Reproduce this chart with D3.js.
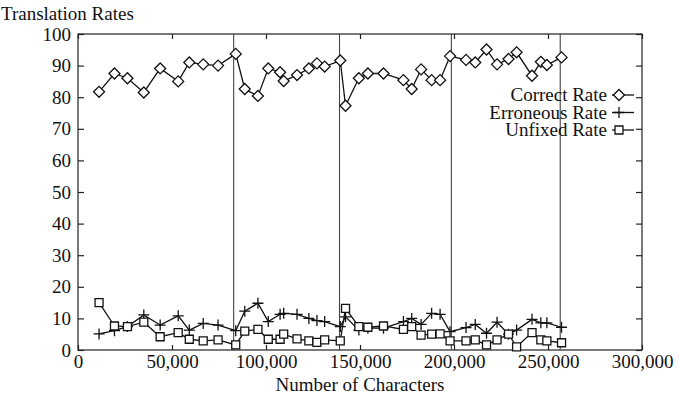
<!DOCTYPE html>
<html>
<head>
<meta charset="utf-8">
<script src="https://cdn.jsdelivr.net/npm/d3@7"></script>
<style>
  body { margin: 0; background: #fff; }
  text { font-family: "Liberation Serif", "DejaVu Serif", serif; fill: #111; }
</style>
</head>
<body>
<div id="chart"></div>
<script>
// number of characters at each measuring point
var chars = [11200, 19400, 26300, 35000, 43700, 53300, 59200, 66600, 74500, 83900,
  88700, 95700, 101200, 107500, 109400, 116500, 122800, 127100, 131200, 139500,
  142300, 149400, 154200, 162500, 173100, 177500, 182500, 188100, 192600, 197900,
  206400, 211300, 217300, 222900, 229000, 233300, 241500, 246200, 249400, 257200];

var correctRate = [81.7, 87.5, 86, 81.5, 89.1, 85, 91, 90.4, 90, 93.7,
  82.6, 80.4, 89.1, 87.9, 85.1, 87, 89.1, 90.7, 89.7, 91.6,
  77.3, 86, 87.5, 87.5, 85.4, 82.6, 88.8, 85.4, 85.4, 93,
  91.8, 91, 95.1, 90.4, 92.1, 94.2, 86.8, 91.2, 90.2, 92.6];

var erroneousRate = [5.1, 6.1, 7.4, 11.1, 7.9, 10.8, 6.3, 8.4, 7.9, 6.1,
  12.3, 14.8, 9, 11.3, 11.6, 11.3, 10, 9.3, 9, 7.4,
  10.5, 6.3, 6.9, 6.9, 9, 10, 8.1, 11.6, 11.3, 5.8,
  7.1, 8.1, 5.3, 8.8, 5, 6.3, 9.7, 8.6, 8.6, 7.2];

var unfixedRate = [15, 7.6, 7.4, 8.8, 4.2, 5.5, 3.4, 2.9, 3.2, 1.6,
  6, 6.5, 3.4, 3.4, 5, 3.5, 2.9, 2.4, 3.2, 2.9,
  13.2, 7.4, 7.2, 7.6, 6.5, 7.4, 4.7, 5, 5.1, 2.9,
  2.9, 3.2, 1.6, 3.2, 5, 1, 5.5, 3.2, 2.9, 2.3];

// vertical separators between text blocks
var separators = [82800, 139100, 198600, 256500];

var xTicks = [0, 50000, 100000, 150000, 200000, 250000, 300000];
var yTicks = [0, 10, 20, 30, 40, 50, 60, 70, 80, 90, 100];

var seriesNames = ["Correct Rate", "Erroneous Rate", "Unfixed Rate"];

var W = 679, H = 394;
var margin = {left: 78, right: 37, top: 34, bottom: 44};

var svg = d3.select("#chart").append("svg")
  .attr("width", W)
  .attr("height", H);

var x = d3.scaleLinear().domain([0, 300000]).range([margin.left, W - margin.right]);
var y = d3.scaleLinear().domain([0, 100]).range([H - margin.bottom, margin.top]);

var axisColor = "#222";

// frame
svg.append("rect")
  .attr("x", x(0)).attr("y", y(100))
  .attr("width", x(300000) - x(0))
  .attr("height", y(0) - y(100))
  .attr("fill", "none")
  .attr("stroke", axisColor)
  .attr("stroke-width", 1.2);

var bottomAxis = svg.append("g")
  .attr("transform", "translate(0," + y(0) + ")")
  .call(d3.axisBottom(x).tickValues(xTicks).tickSizeInner(-5).tickSizeOuter(0)
    .tickPadding(5).tickFormat(d3.format(",")));

var topAxis = svg.append("g")
  .attr("transform", "translate(0," + y(100) + ")")
  .call(d3.axisTop(x).tickValues(xTicks).tickSizeInner(-5).tickSizeOuter(0).tickFormat(""));

var leftAxis = svg.append("g")
  .attr("transform", "translate(" + x(0) + ",0)")
  .call(d3.axisLeft(y).tickValues(yTicks).tickSizeInner(-6).tickSizeOuter(0).tickPadding(7));

var rightAxis = svg.append("g")
  .attr("transform", "translate(" + x(300000) + ",0)")
  .call(d3.axisRight(y).tickValues(yTicks).tickSizeInner(-6).tickSizeOuter(0).tickFormat(""));

[bottomAxis, topAxis, leftAxis, rightAxis].forEach(function(g){
  g.select(".domain").remove();
  g.selectAll("line").attr("stroke", axisColor).attr("stroke-width", 1.2);
  g.selectAll("text").attr("font-size", 19).attr("font-family", "Liberation Serif").attr("fill", "#111");
});

// separators
svg.selectAll(".sep").data(separators).enter().append("line")
  .attr("class", "sep")
  .attr("x1", function(d){ return x(d); })
  .attr("x2", function(d){ return x(d); })
  .attr("y1", y(0)).attr("y2", y(100))
  .attr("stroke", "#444")
  .attr("stroke-width", 1.1);

// axis titles
svg.append("text")
  .attr("x", 1).attr("y", 20)
  .attr("font-size", 19)
  .text("Translation Rates");

svg.append("text")
  .attr("x", (x(0) + x(300000)) / 2).attr("y", 391)
  .attr("text-anchor", "middle")
  .attr("font-size", 19)
  .text("Number of Characters");

// markers
var markers = {
  diamond: "M-5.5,0L0,-5.5L5.5,0L0,5.5Z",
  plus: "M-5.5,0L5.5,0M0,-5.5L0,5.5",
  square: "M-4,-4L4,-4L4,4L-4,4Z"
};

var series = [
  {name: seriesNames[0], values: correctRate, marker: "diamond"},
  {name: seriesNames[1], values: erroneousRate, marker: "plus"},
  {name: seriesNames[2], values: unfixedRate, marker: "square"}
];

var line = d3.line()
  .x(function(d){ return x(d[0]); })
  .y(function(d){ return y(d[1]); });

series.forEach(function(s){
  var pts = chars.map(function(c, i){ return [c, s.values[i]]; });
  svg.append("path")
    .datum(pts)
    .attr("d", line)
    .attr("fill", "none")
    .attr("stroke", "#111")
    .attr("stroke-width", 1.3);
  svg.selectAll(".pt-" + s.marker).data(pts).enter().append("path")
    .attr("class", "pt-" + s.marker)
    .attr("transform", function(d){ return "translate(" + x(d[0]) + "," + y(d[1]) + ")"; })
    .attr("d", markers[s.marker])
    .attr("fill", s.marker === "plus" ? "none" : "#fff")
    .attr("stroke", "#111")
    .attr("stroke-width", 1.3);
});

// legend
var legend = svg.append("g");
series.forEach(function(s, i){
  var by = 101 + i * 17.5;
  legend.append("text")
    .attr("x", 607).attr("y", by)
    .attr("text-anchor", "end")
    .attr("font-size", 19)
    .text(s.name);
  legend.append("line")
    .attr("x1", 612).attr("x2", 634)
    .attr("y1", by - 6).attr("y2", by - 6)
    .attr("stroke", "#111").attr("stroke-width", 1.3);
  legend.append("path")
    .attr("transform", "translate(619," + (by - 6) + ")")
    .attr("d", markers[s.marker])
    .attr("fill", s.marker === "plus" ? "none" : "#fff")
    .attr("stroke", "#111").attr("stroke-width", 1.3);
});
</script>
</body>
</html>
